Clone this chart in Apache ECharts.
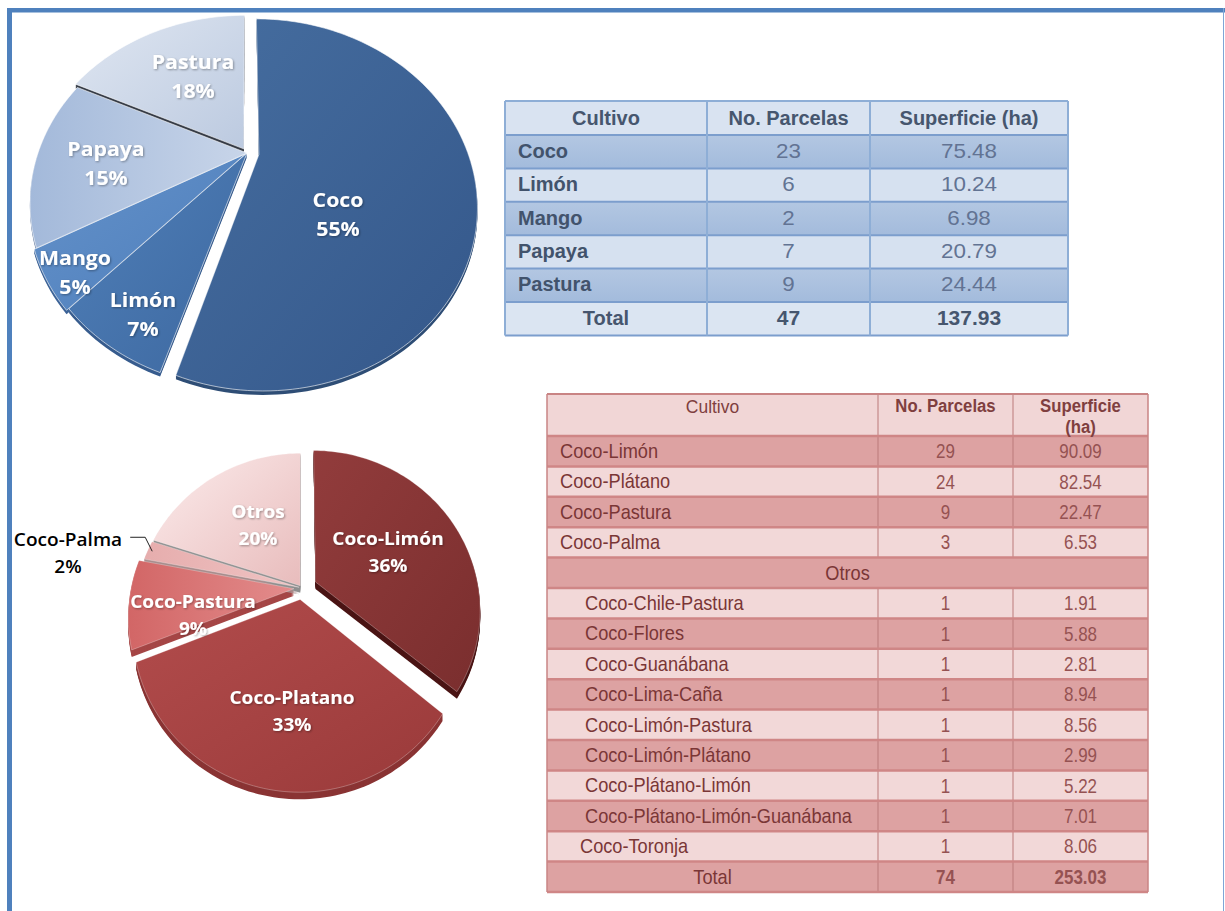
<!DOCTYPE html>
<html>
<head>
<meta charset="utf-8">
<script src="https://cdn.jsdelivr.net/npm/echarts@6/dist/echarts.min.js"></script>
<style>
  html, body { margin: 0; padding: 0; background: #ffffff; }
  #main { width: 1225px; height: 911px; }
</style>
</head>
<body>
<div id="main"></div>
<script>
// ---- Cultivos (monocultivo) ----
const cultivos = ['Coco', 'Limón', 'Mango', 'Papaya', 'Pastura'];
const cultivosParcelas = [23, 6, 2, 7, 9];
const cultivosSuperficie = [75.48, 10.24, 6.98, 20.79, 24.44];
const cultivosTotal = ['Total', 47, 137.93];
const cultivosPct = [55, 7, 5, 15, 18];
const cultivosHeader = ['Cultivo', 'No. Parcelas', 'Superficie (ha)'];

// ---- Asociaciones de cultivo ----
const asociaciones = ['Coco-Limón', 'Coco-Plátano', 'Coco-Pastura', 'Coco-Palma'];
const asociacionesParcelas = [29, 24, 9, 3];
const asociacionesSuperficie = [90.09, 82.54, 22.47, 6.53];
const otros = ['Coco-Chile-Pastura', 'Coco-Flores', 'Coco-Guanábana', 'Coco-Lima-Caña',
  'Coco-Limón-Pastura', 'Coco-Limón-Plátano', 'Coco-Plátano-Limón',
  'Coco-Plátano-Limón-Guanábana', 'Coco-Toronja'];
const otrosParcelas = [1, 1, 1, 1, 1, 1, 1, 1, 1];
const otrosSuperficie = [1.91, 5.88, 2.81, 8.94, 8.56, 2.99, 5.22, 7.01, 8.06];
const asociacionesTotal = ['Total', 74, 253.03];
const asocPieNames = ['Coco-Limón', 'Coco-Platano', 'Coco-Pastura', 'Coco-Palma', 'Otros'];
const asocPiePct = [36, 33, 9, 2, 20];
const asocHeader = ['Cultivo', 'No. Parcelas', 'Superficie\n(ha)'];

// ---- Pie layouts (tilted pies in perspective) ----
const pieA = {
  cx: 247, cy: 153, r: 209, tilt: 0.821, persp: 0.27, depth: 4,
  explode: [12, 0, 2, 0, 6],
  fill: [
    [0, 0, 1, 1, '#466ea0', '#34578a'],
    [0, 0, 1, 1, '#5080b9', '#3d68a0'],
    [0, 0, 1, 1, '#6492ca', '#4e7ebb'],
    [0, 0, 1, 0, '#a3b9da', '#c8d5e9'],
    [0, 0, 1, 1, '#dfe6f1', '#bccae0']
  ],
  wall: ['#2f4e76', '#375c8e', '#3d6498', '#7c90b0', '#363c47'],
  stroke: 'rgba(255,255,255,0.75)',
  label: [[91, 61], [-104, 161], [-172, 119], [-141, 10], [-54, -77]],
  labelColor: ['#fff', '#fff', '#fff', '#fff', '#fff'],
  fontSize: 19, lineHeight: 29, scaleX: 1.12
};
const pieB = {
  cx: 302, cy: 588, r: 163, tilt: 0.955, persp: 0.17, depth: 7,
  explode: [15, 12, 8, 3, 3],
  fill: [
    [0, 0, 1, 1, '#923c3c', '#7a2e2e'],
    [0, 0, 1, 1, '#b24c4c', '#9a3a3a'],
    [0, 0, 1, 0, '#d26666', '#e38c8c'],
    [0, 0, 1, 0, '#e6adad', '#efc3c3'],
    [0, 0, 1, 1, '#fcecec', '#e8bcbc']
  ],
  wall: ['#4a1414', '#8a3434', '#a54646', '#a98d8d', '#8f8f8f'],
  stroke: 'rgba(255,255,255,0.35)',
  label: [[86, -37], [-10, 122], [-109, 26], [-234, -36], [-44, -64]],
  labelColor: ['#fff', '#fff', '#fff', '#000', '#fff'],
  outside: [false, false, false, true, false],
  fontSize: 18, lineHeight: 27, scaleX: 1.06
};

function project(p, alphaDeg, rr, du, dv) {
  const th = (90 - alphaDeg) * Math.PI / 180;
  const u = du + rr * Math.cos(th);
  const v = dv + rr * Math.sin(th);
  const den = 1 + p.persp * v / p.r;
  return [p.cx + u / den, p.cy - p.tilt * v / den];
}

function piePieceSeries(p, names, values) {
  const total = values.reduce((a, b) => a + b, 0);
  return {
    type: 'custom',
    coordinateSystem: 'none',
    silent: true,
    animation: false,
    data: values.map((v, i) => ({ name: names[i], value: [i, v] })),
    renderItem: function (params, api) {
      const i = params.dataIndex;
      const val = api.value(1);
      let before = 0;
      for (let k = 0; k < i; k++) before += values[k];
      const a0 = before / total * 360;
      const a1 = (before + val) / total * 360;
      const thm = (90 - (a0 + a1) / 2) * Math.PI / 180;
      const d = p.explode[i];
      const du = d * Math.cos(thm), dv = d * Math.sin(thm);
      const pts = [project(p, 0, 0, du, dv)];
      const n = Math.max(3, Math.ceil((a1 - a0) / 1.5));
      for (let s = 0; s <= n; s++) pts.push(project(p, a0 + (a1 - a0) * s / n, p.r, du, dv));

      const children = [];
      for (let h = p.depth; h >= 1; h--) {
        children.push({
          type: 'polygon', z2: 1,
          shape: { points: pts.map(q => [q[0], q[1] + h]) },
          style: { fill: p.wall[i] }
        });
      }
      const g = p.fill[i];
      children.push({
        type: 'polygon', z2: 5,
        shape: { points: pts },
        style: {
          fill: new echarts.graphic.LinearGradient(g[0], g[1], g[2], g[3],
            [{ offset: 0, color: g[4] }, { offset: 1, color: g[5] }]),
          stroke: p.stroke, lineWidth: 0.8
        }
      });
      const outside = p.outside && p.outside[i];
      const lx = p.cx + p.label[i][0], ly = p.cy + p.label[i][1];
      children.push({
        type: 'text', z2: 10,
        x: lx, y: ly, scaleX: p.scaleX,
        style: {
          text: names[i] + '\n' + val + '%',
          fill: p.labelColor[i],
          fontFamily: 'Open Sans', fontWeight: outside ? 600 : 'bold',
          fontSize: p.fontSize, lineHeight: p.lineHeight,
          align: 'center', verticalAlign: 'middle',
          textShadowColor: outside ? 'transparent' : 'rgba(0,0,0,0.35)',
          textShadowBlur: outside ? 0 : 2, textShadowOffsetX: 1, textShadowOffsetY: 1
        }
      });
      if (outside) {
        const am = (a0 + a1) / 2;
        const end = project(p, am, p.r * 0.97, du, dv);
        const elbow = [end[0] - 7, end[1] - 14];
        const start = [elbow[0] - 15, elbow[1]];
        children.push({
          type: 'polyline', z2: 10,
          shape: { points: [start, elbow, end] },
          style: { stroke: '#222', lineWidth: 1, fill: null }
        });
      }
      return { type: 'group', children: children };
    }
  };
}

// ---- Tables drawn as graphic elements ----
const graphics = [];
function rect(x, y, w, h, fill) {
  graphics.push({ type: 'rect', silent: true, z: 1, shape: { x: x, y: y, width: w, height: h }, style: { fill: fill } });
}
function hline(x1, x2, y, color, w) {
  graphics.push({ type: 'line', silent: true, z: 2, shape: { x1: x1, y1: y, x2: x2, y2: y }, style: { stroke: color, lineWidth: w } });
}
function vline(x, y1, y2, color, w) {
  graphics.push({ type: 'line', silent: true, z: 2, shape: { x1: x, y1: y1, x2: x, y2: y2 }, style: { stroke: color, lineWidth: w } });
}
function text(x, y, str, o) {
  graphics.push({
    type: 'text', silent: true, z: 3, x: x, y: y, scaleX: o.sx || 1,
    style: {
      text: str, fill: o.color, fontFamily: o.family || 'Liberation Sans',
      fontSize: o.size, fontWeight: o.weight || 'normal',
      align: o.align || 'center', verticalAlign: 'middle', lineHeight: o.lh || o.size
    }
  });
}
const fmt = v => v.toFixed(2);

// Monocultivo table
(function () {
  const cols = [505, 707, 870, 1068], top = 101, headH = 34, rowH = 33.4;
  const rows = cultivos.length + 1;
  const bottom = top + headH + rows * rowH;
  const mid = [(cols[0] + cols[1]) / 2, (cols[1] + cols[2]) / 2, (cols[2] + cols[3]) / 2];
  const w = cols[3] - cols[0];
  rect(cols[0], top, w, headH, '#d9e3f1');
  for (let r = 0; r < rows; r++) {
    const y = top + headH + r * rowH;
    const dark = r < cultivos.length && r % 2 === 0;
    graphics.push({
      type: 'rect', silent: true, z: 1, shape: { x: cols[0], y: y, width: w, height: rowH },
      style: {
        fill: dark
          ? new echarts.graphic.LinearGradient(0, 0, 0, 1, [{ offset: 0, color: '#b3c7e2' }, { offset: 1, color: '#a3bbdc' }])
          : (r === cultivos.length ? '#dbe5f2' : '#d6e1f0')
      }
    });
  }
  for (let r = 0; r <= rows; r++) hline(cols[0], cols[3], top + headH + r * rowH, '#7c9ecd', 2);
  hline(cols[0], cols[3], top, '#8eaed6', 2);
  cols.forEach(x => vline(x, top, bottom, '#8eaed6', 2));

  const hy = top + headH / 2;
  text(mid[0], hy, cultivosHeader[0], { size: 20, weight: 'bold', color: '#46566e' });
  text(mid[1], hy, cultivosHeader[1], { size: 20, weight: 'bold', color: '#46566e' });
  text(mid[2], hy, cultivosHeader[2], { size: 20, weight: 'bold', color: '#46566e' });
  cultivos.forEach((c, r) => {
    const y = top + headH + r * rowH + rowH / 2 - 1;
    text(518, y, c, { size: 20, weight: 'bold', color: '#42536c', align: 'left' });
    text(mid[1], y, String(cultivosParcelas[r]), { size: 20, color: '#627393', sx: 1.12 });
    text(mid[2], y, fmt(cultivosSuperficie[r]), { size: 20, color: '#627393', sx: 1.12 });
  });
  const ty = top + headH + cultivos.length * rowH + rowH / 2 - 1;
  text(mid[0], ty, cultivosTotal[0], { size: 20, weight: 'bold', color: '#46566e' });
  text(mid[1], ty, String(cultivosTotal[1]), { size: 20, weight: 'bold', color: '#46566e', sx: 1.05 });
  text(mid[2], ty, fmt(cultivosTotal[2]), { size: 20, weight: 'bold', color: '#46566e', sx: 1.05 });
})();

// Asociaciones table
(function () {
  const cols = [547, 878, 1013, 1148], top = 394, headH = 42, rowH = 30.4;
  const subIndent = [25, 25, 25, 25, 25, 25, 25, 25, 20];
  const lines = [];
  asociaciones.forEach((c, i) => lines.push({ kind: 'main', name: c, n: asociacionesParcelas[i], s: asociacionesSuperficie[i] }));
  lines.push({ kind: 'group', name: 'Otros' });
  otros.forEach((c, i) => lines.push({ kind: 'sub', name: c, n: otrosParcelas[i], s: otrosSuperficie[i], indent: subIndent[i] }));
  lines.push({ kind: 'total', name: asociacionesTotal[0], n: asociacionesTotal[1], s: asociacionesTotal[2] });

  const w = cols[3] - cols[0];
  const bottom = top + headH + lines.length * rowH;
  const mid = [(cols[0] + cols[1]) / 2, (cols[1] + cols[2]) / 2, (cols[2] + cols[3]) / 2];
  rect(cols[0], top, w, headH, '#f1d6d6');
  lines.forEach((ln, r) => {
    const y = top + headH + r * rowH;
    rect(cols[0], y, w, rowH, r % 2 === 0 ? '#dda2a2' : '#f2d8d8');
  });
  // column dividers (not through the merged "Otros" row)
  const gy0 = top + headH + 4 * rowH, gy1 = gy0 + rowH;
  [cols[1], cols[2]].forEach(x => { vline(x, top, gy0, '#bb7a7a', 1); vline(x, gy1, bottom, '#bb7a7a', 1); });
  for (let r = 0; r <= lines.length; r++) hline(cols[0], cols[3], top + headH + r * rowH, '#cf8686', 2.5);
  hline(cols[0], cols[3], top, '#c98484', 2);
  vline(cols[0], top, bottom, '#c98484', 1.5);
  vline(cols[3], top, bottom, '#c98484', 1.5);

  const nameColor = '#7a3636', numColor = '#955252';
  text(mid[0], 406, asocHeader[0], { size: 19, color: '#7f3f3f', sx: 0.92 });
  text(mid[1], 406, asocHeader[1], { size: 19, weight: 'bold', color: '#7f3f3f', sx: 0.88 });
  text(mid[2], 416, asocHeader[2], { size: 19, weight: 'bold', color: '#7f3f3f', sx: 0.88, lh: 21 });
  lines.forEach((ln, r) => {
    const y = top + headH + r * rowH + rowH / 2;
    if (ln.kind === 'group') {
      text((cols[0] + cols[3]) / 2, y, ln.name, { size: 20, color: nameColor, sx: 0.91 });
      return;
    }
    if (ln.kind === 'total') {
      text(mid[0], y, ln.name, { size: 20, color: nameColor, sx: 0.91 });
      text(mid[1], y, String(ln.n), { size: 20, weight: 'bold', color: numColor, sx: 0.85 });
      text(mid[2], y, fmt(ln.s), { size: 20, weight: 'bold', color: numColor, sx: 0.85 });
      return;
    }
    const x = ln.kind === 'sub' ? 560 + ln.indent : 560;
    text(x, y, ln.name, { size: 20, color: nameColor, sx: 0.91, align: 'left' });
    text(mid[1], y, String(ln.n), { size: 20, color: numColor, sx: 0.85 });
    text(mid[2], y, fmt(ln.s), { size: 20, color: numColor, sx: 0.85 });
  });
})();

// Page frame
rect(7, 8, 5, 903, '#4f81bd');
rect(7, 8, 1218, 4.5, '#4f81bd');
vline(1223.5, 8, 911, '#7fa5d6', 1);

const chart = echarts.init(document.getElementById('main'), null, { renderer: 'svg', width: 1225, height: 911 });
chart.setOption({
  animation: false,
  backgroundColor: '#ffffff',
  graphic: { elements: graphics },
  series: [
    piePieceSeries(pieA, cultivos, cultivosPct),
    piePieceSeries(pieB, asocPieNames, asocPiePct)
  ]
});
</script>
</body>
</html>
